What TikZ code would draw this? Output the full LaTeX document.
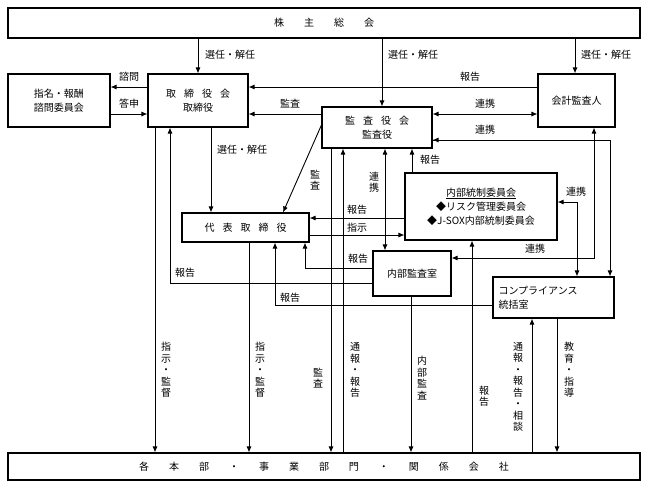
\documentclass[tikz,border=0pt]{standalone}
\usepackage{fontspec}
\setmainfont{Noto Sans CJK JP}
\usetikzlibrary{positioning, arrows.meta}

\tikzset{
  box/.style={draw, line width=1.1pt, fill=white, inner sep=1pt, align=center, font=\fontsize{10}{14}\selectfont},
  lbl/.style={font=\fontsize{10}{12}\selectfont, inner sep=1pt},
  vlbl/.style={font=\fontsize{10}{11.5}\selectfont, inner sep=1pt, align=center, text width=1em},
  arr/.style={-{Latex[length=6pt,width=5pt]}, line width=0.9pt},
  darr/.style={{Latex[length=6pt,width=5pt]}-{Latex[length=6pt,width=5pt]}, line width=0.9pt},
  ln/.style={line width=0.9pt}
}

\begin{document}
\begin{tikzpicture}[x=1pt, y=-1pt]
    \useasboundingbox (0,0) rectangle (648,488);

    % Boxes
    \node[box, minimum width=632pt, minimum height=30pt] (kabu) at (324,23) {株\hspace{2em}主\hspace{2em}総\hspace{2em}会};
    \node[box, minimum width=102pt, minimum height=53pt] (shimei) at (59,100.5) {指名・報酬\\諮問委員会};
    \node[box, minimum width=100pt, minimum height=53pt] (tori) at (198,100.5) {取\hspace{0.8em}締\hspace{0.8em}役\hspace{0.8em}会\\取締役};
    \node[box, minimum width=110pt, minimum height=41pt] (kansa) at (377,127.5) {監\hspace{0.8em}査\hspace{0.8em}役\hspace{0.8em}会\\監査役};
    \node[box, minimum width=77pt, minimum height=53pt] (kaikei) at (576.5,100.5) {会計監査人};
    \node[box, minimum width=152pt, minimum height=67pt] (naibu) at (481,206.5) {\underline{内部統制委員会}\\◆リスク管理委員会\\◆J-SOX内部統制委員会};
    \node[box, minimum width=127pt, minimum height=29pt] (daihyo) at (245.5,227.5) {代\hspace{0.8em}表\hspace{0.8em}取\hspace{0.8em}締\hspace{0.8em}役};
    \node[box, minimum width=78pt, minimum height=45pt] (shitsu) at (412,273.5) {内部監査室};
    \node[box, minimum width=121pt, minimum height=41pt, align=left, text width=110pt] (comp) at (553.5,297.5) {コンプライアンス\\統括室};
    \node[box, minimum width=632pt, minimum height=27pt] (bumon) at (324,466.5) {各\hspace{2em}本\hspace{2em}部\hspace{2em}・\hspace{2em}事\hspace{2em}業\hspace{2em}部\hspace{2em}門\hspace{2em}・\hspace{2em}関\hspace{2em}係\hspace{2em}会\hspace{2em}社};

    % Shareholders
    \draw[arr] (198,0 |- kabu.south) -- (tori);
    \draw[arr] (382,0 |- kabu.south) -- (382,0 |- kansa.north);
    \draw[arr] (575,0 |- kabu.south) -- (575,0 |- kaikei.north);
    \node[lbl, right] at (204,55) {選任・解任};
    \node[lbl, right] at (387,55) {選任・解任};
    \node[lbl, right] at (580,55) {選任・解任};

    % Board and advisory committee
    \draw[arr] (tori.west |- 0,87) -- (shimei.east |- 0,87);
    \draw[arr] (shimei.east |- 0,114) -- (tori.west |- 0,114);
    \node[lbl] at (129,77) {諮問};
    \node[lbl] at (129,104) {答申};

    % Reports into the board
    \draw[arr] (kaikei.west |- 0,87) -- (tori.east |- 0,87);
    \node[lbl] at (470,77) {報告};
    \draw[arr] (kansa.west |- 0,114) -- (tori.east |- 0,114);
    \node[lbl] at (290,104) {監査};
    \draw[darr] (kansa.east |- 0,114) -- (kaikei.west |- 0,114);
    \node[lbl] at (485,104) {連携};
    \coordinate (c1) at (610,140);
    \draw[arr] (kansa.east |- c1) -- (c1) -- (610,0 |- comp.north);
    \draw[arr] (c1) -- (kansa.east |- c1);
    \node[lbl] at (485,130) {連携};
    \draw[darr] (594,0 |- kaikei.south) -- (594,258) -- (shitsu.east |- 0,258);
    \node[lbl] at (535,249) {連携};
    \draw[darr] (naibu.east |- 0,202) -- (577,202) -- (577,0 |- comp.north);
    \node[lbl] at (576,192) {連携};

    % Board to representative director
    \draw[arr] (211,0 |- tori.south) -- (211,0 |- daihyo.north);
    \node[lbl, right] at (216,150) {選任・解任};
    \draw[arr] (kansa.west |- 0,125) -- (283,0 |- daihyo.north);
    \node[vlbl] at (315,180) {監\\査};

    % Internal control committee
    \draw[arr] (412,0 |- naibu.north) -- (412,0 |- kansa.south);
    \node[lbl] at (430,160) {報告};
    \draw[darr] (385,0 |- kansa.south) -- (385,0 |- shitsu.north);
    \node[vlbl] at (374,182) {連\\携};
    \draw[arr] (naibu.west |- 0,218) -- (daihyo.east |- 0,218);
    \node[lbl] at (357,210) {報告};
    \draw[arr] (daihyo.east |- 0,235) -- (naibu.west |- 0,235);
    \node[lbl] at (357,228) {指示};

    % Reports from audit office and compliance
    \draw[arr] (shitsu.west |- 0,268) -- (305,268) -- (305,0 |- daihyo.south);
    \node[lbl] at (358,259) {報告};
    \draw[arr] (shitsu.west |- 0,283) -- (170,283) -- (170,0 |- tori.south);
    \node[lbl] at (185,273) {報告};
    \draw[arr] (comp.west |- 0,305) -- (275,305) -- (275,0 |- daihyo.south);
    \node[lbl] at (290,298) {報告};

    % Links to divisions
    \draw[arr] (155,0 |- tori.south) -- (155,0 |- bumon.north);
    \node[vlbl] at (166,370) {指\\示\\・\\監\\督};
    \draw[arr] (249,0 |- daihyo.south) -- (249,0 |- bumon.north);
    \node[vlbl] at (260,370) {指\\示\\・\\監\\督};
    \draw[arr] (331,0 |- kansa.south) -- (331,0 |- bumon.north);
    \node[vlbl] at (318,378) {監\\査};
    \draw[arr] (343,0 |- bumon.north) -- (343,0 |- kansa.south);
    \node[vlbl] at (355,370) {通\\報\\・\\報\\告};
    \draw[arr] (411,0 |- shitsu.south) -- (411,0 |- bumon.north);
    \node[vlbl] at (422,378) {内\\部\\監\\査};
    \draw[arr] (472,0 |- bumon.north) -- (472,0 |- naibu.south);
    \node[vlbl] at (484,396) {報\\告};
    \draw[arr] (532,0 |- bumon.north) -- (532,0 |- comp.south);
    \node[vlbl] at (518,387) {通\\報\\・\\報\\告\\・\\相\\談};
    \draw[arr] (557,0 |- comp.south) -- (557,0 |- bumon.north);
    \node[vlbl] at (569,370) {教\\育\\・\\指\\導};
\end{tikzpicture}
\end{document}
